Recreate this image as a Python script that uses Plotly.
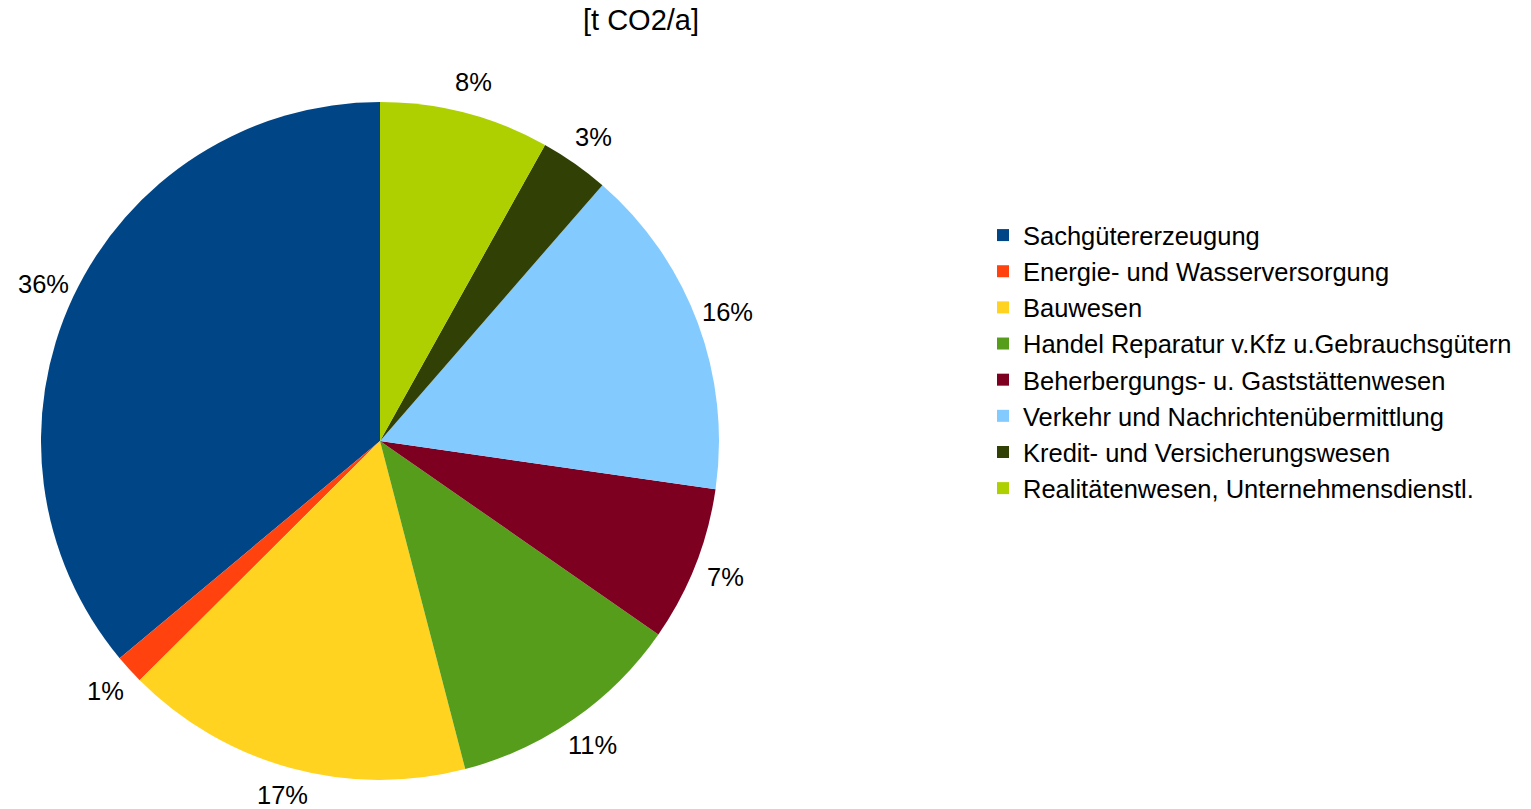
import math
import plotly.graph_objects as go

# CO2 emissions by economic sector, shares of total
sectors = [
    "Sachgütererzeugung",
    "Energie- und Wasserversorgung",
    "Bauwesen",
    "Handel Reparatur v.Kfz u.Gebrauchsgütern",
    "Beherbergungs- u. Gaststättenwesen",
    "Verkehr und Nachrichtenübermittlung",
    "Kredit- und Versicherungswesen",
    "Realitätenwesen, Unternehmensdienstl.",
]
shares = [36.1, 1.4, 16.6, 11.3, 7.4, 15.9, 3.3, 8.1]
colors = ["#004586", "#ff420e", "#ffd320", "#579d1c",
          "#7e0021", "#83caff", "#314004", "#aecf00"]

W, H = 1531, 809
FONT = "Liberation Sans, Arial, sans-serif"
LABEL_SIZE = 25.5

# pie centred at (380, 441) px with radius 339 px
cx, cy, r = 380, 441, 339
label_radius = r + 32

total = sum(shares)
# first slice begins at 12 o'clock and the slices run counterclockwise
first_angle = 360.0 * shares[0] / total

fig = go.Figure(go.Pie(
    labels=sectors,
    values=shares,
    marker=dict(colors=colors, line=dict(width=0)),
    sort=False,
    direction="counterclockwise",
    rotation=-first_angle,
    textinfo="none",
    domain=dict(x=[(cx - r) / W, (cx + r) / W],
                y=[1 - (cy + r) / H, 1 - (cy - r) / H]),
    automargin=False,
    hoverinfo="label+percent",
))

# percentage labels just outside the rim, on each slice's middle angle
cum = 0.0
for s in shares:
    theta = 2 * math.pi * (cum + s / 2) / total  # counterclockwise from top
    cum += s
    px = cx - label_radius * math.sin(theta)
    py = cy - label_radius * math.cos(theta)
    py = min(py, H - 14)  # keep the lowest label inside the page
    fig.add_annotation(
        x=px / W, y=1 - py / H, xref="paper", yref="paper",
        text=f"{round(100 * s / total)}%", showarrow=False,
        xanchor="center", yanchor="middle",
        font=dict(family=FONT, size=LABEL_SIZE, color="#000000"),
    )

fig.update_layout(
    width=W, height=H,
    margin=dict(l=0, r=0, t=0, b=0),
    paper_bgcolor="white",
    plot_bgcolor="white",
    font=dict(family=FONT, size=LABEL_SIZE, color="#000000"),
    title=dict(text="[t CO2/a]", x=641 / W, xanchor="center",
               y=1 - 20 / H, yanchor="middle",
               font=dict(family=FONT, size=29, color="#000000")),
    showlegend=True,
    legend=dict(x=983 / W, xanchor="left", y=1 - 362 / H, yanchor="middle",
                font=dict(family=FONT, size=LABEL_SIZE, color="#000000"),
                bgcolor="rgba(0,0,0,0)", traceorder="normal"),
)

fig.write_html("out.html")
